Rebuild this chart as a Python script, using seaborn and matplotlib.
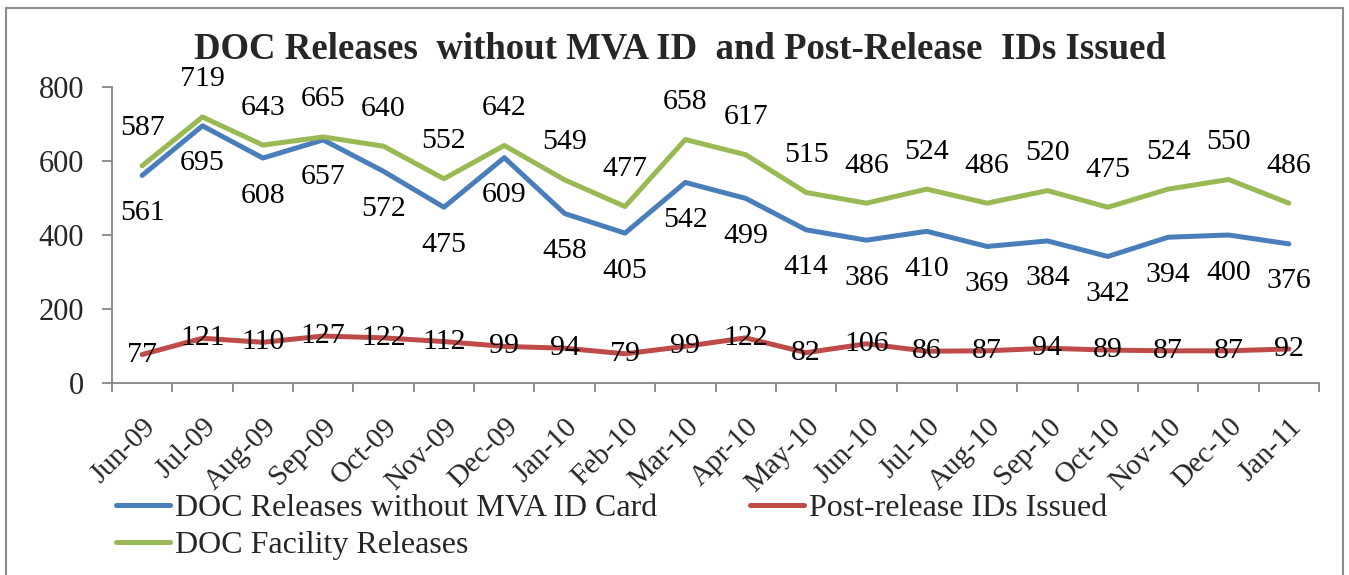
import matplotlib
matplotlib.use("Agg")
import matplotlib.pyplot as plt
import seaborn as sns
import pandas as pd
import numpy as np
from matplotlib.patches import Rectangle
from matplotlib.lines import Line2D

months = ["Jun-09", "Jul-09", "Aug-09", "Sep-09", "Oct-09", "Nov-09", "Dec-09",
          "Jan-10", "Feb-10", "Mar-10", "Apr-10", "May-10", "Jun-10", "Jul-10",
          "Aug-10", "Sep-10", "Oct-10", "Nov-10", "Dec-10", "Jan-11"]
no_mva = [561, 695, 608, 657, 572, 475, 609, 458, 405, 542, 499, 414, 386, 410,
          369, 384, 342, 394, 400, 376]
post_ids = [77, 121, 110, 127, 122, 112, 99, 94, 79, 99, 122, 82, 106, 86,
            87, 94, 89, 87, 87, 92]
facility = [587, 719, 643, 665, 640, 552, 642, 549, 477, 658, 617, 515, 486, 524,
            486, 520, 475, 524, 550, 486]

name_blue = "DOC Releases without MVA ID Card"
name_red = "Post-release IDs Issued"
name_green = "DOC Facility Releases"

sns.set_style("ticks")
plt.rcParams["font.family"] = ["Liberation Serif", "DejaVu Serif"]

c_blue = "#4A7EBB"
c_red = "#BE4B48"
c_green = "#98B954"
axis_col = "#868686"

df = pd.DataFrame({"idx": np.arange(len(months)), "month": months,
                   name_blue: no_mva, name_red: post_ids, name_green: facility})

fig = plt.figure(figsize=(13.49, 5.75), dpi=100)
ax = fig.add_axes([0.0830, 0.3339, 0.9778 - 0.0830, 0.8487 - 0.3339])

lw = 3.6
sns.lineplot(data=df, x="idx", y=name_blue, ax=ax, color=c_blue, lw=lw, legend=False)
sns.lineplot(data=df, x="idx", y=name_red, ax=ax, color=c_red, lw=lw, legend=False)
sns.lineplot(data=df, x="idx", y=name_green, ax=ax, color=c_green, lw=lw, legend=False)

lab_fs = 21.5
for i in range(len(months)):
    ax.annotate(str(facility[i]), (i, facility[i]), xytext=(0, 27), textcoords="offset points",
                ha="center", va="center", fontsize=lab_fs, color="black")
    ax.annotate(str(no_mva[i]), (i, no_mva[i]), xytext=(0, -27), textcoords="offset points",
                ha="center", va="center", fontsize=lab_fs, color="black")
    ax.annotate(str(post_ids[i]), (i, post_ids[i]), xytext=(0, 0), textcoords="offset points",
                ha="center", va="center", fontsize=lab_fs, color="black")

ax.set_xlim(-0.5, len(months) - 0.5)
ax.set_ylim(0, 800)
ax.set_yticks([0, 200, 400, 600, 800])
ax.set_xticks(np.arange(len(months)))
ax.set_xticklabels(months, rotation=45, ha="right", rotation_mode="anchor", fontsize=21)
ax.set_xticks(np.arange(len(months) + 1) - 0.5, minor=True)
ax.tick_params(axis="x", which="major", length=0, pad=22)
ax.tick_params(axis="x", which="minor", length=6.5, color=axis_col, width=1.3, direction="out")
ax.tick_params(axis="y", length=7, color=axis_col, width=1.3, labelsize=22, pad=13)
ax.set_xlabel("")
ax.set_ylabel("")
for s in ["top", "right"]:
    ax.spines[s].set_visible(False)
for s in ["left", "bottom"]:
    ax.spines[s].set_color(axis_col)
    ax.spines[s].set_linewidth(1.3)
ax.grid(False)

fig.text(0.504, 1 - 49 / 575, "DOC Releases  without MVA ID  and Post-Release  IDs Issued",
         ha="center", va="center", fontsize=26.5, fontweight="bold")

handles = [Line2D([], [], color=c_blue, lw=lw, solid_capstyle="round"),
           Line2D([], [], color=c_green, lw=lw, solid_capstyle="round"),
           Line2D([], [], color=c_red, lw=lw, solid_capstyle="round")]
labels = [name_blue, name_green, name_red]
fig.legend(handles, labels, loc="upper left", bbox_to_anchor=(0.086, 1 - 494 / 575),
           ncol=2, frameon=False, fontsize=23, handlelength=1.7, handletextpad=0.15,
           columnspacing=2.9, labelspacing=0.23, borderpad=0, borderaxespad=0)

fig.patches.append(Rectangle((6 / 1349, -0.1), (1343 - 6) / 1349, 1.1 - 8 / 575,
                             transform=fig.transFigure, fill=False, edgecolor="#8c8c8c",
                             lw=1.5, zorder=0))

fig.savefig("out.png", dpi=100)
